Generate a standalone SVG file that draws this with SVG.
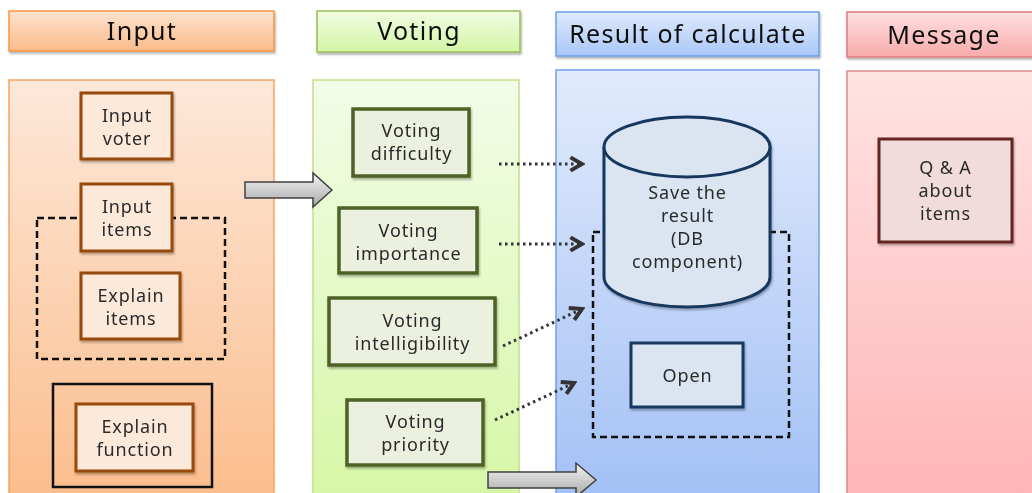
<svg xmlns="http://www.w3.org/2000/svg" width="1032" height="493" viewBox="0 0 1032 493">
<defs>
<linearGradient id="gOrH" x1="0" y1="0" x2="0" y2="1"><stop offset="0" stop-color="#fde3d0"/><stop offset="1" stop-color="#fbbb8a"/></linearGradient>
<linearGradient id="gOrP" x1="0" y1="0" x2="0" y2="1"><stop offset="0" stop-color="#fde8da"/><stop offset="1" stop-color="#fbbd8c"/></linearGradient>
<linearGradient id="gGrH" x1="0" y1="0" x2="0" y2="1"><stop offset="0" stop-color="#f1fbe3"/><stop offset="1" stop-color="#d3f5a6"/></linearGradient>
<linearGradient id="gGrP" x1="0" y1="0" x2="0" y2="1"><stop offset="0" stop-color="#f3fce8"/><stop offset="1" stop-color="#d6f7a6"/></linearGradient>
<linearGradient id="gBlH" x1="0" y1="0" x2="0" y2="1"><stop offset="0" stop-color="#dfeafc"/><stop offset="1" stop-color="#a9c7f7"/></linearGradient>
<linearGradient id="gBlP" x1="0" y1="0" x2="0" y2="1"><stop offset="0" stop-color="#e1ebfc"/><stop offset="1" stop-color="#a3c0f5"/></linearGradient>
<linearGradient id="gRdH" x1="0" y1="0" x2="0" y2="1"><stop offset="0" stop-color="#fee0e0"/><stop offset="1" stop-color="#f8aaaa"/></linearGradient>
<linearGradient id="gRdP" x1="0" y1="0" x2="0" y2="1"><stop offset="0" stop-color="#ffe3e3"/><stop offset="1" stop-color="#ffb5b5"/></linearGradient>
<linearGradient id="gGray" x1="0" y1="0" x2="0" y2="1"><stop offset="0" stop-color="#f4f4f4"/><stop offset="1" stop-color="#a8a8a8"/></linearGradient>
<filter id="sh" x="-10%" y="-10%" width="130%" height="140%"><feDropShadow dx="1" dy="2" stdDeviation="1.2" flood-color="#000" flood-opacity="0.3"/></filter>
<marker id="chev" viewBox="0 0 10 10" refX="8" refY="5" markerWidth="5.5" markerHeight="5.5" orient="auto" markerUnits="strokeWidth"><polyline points="1,1 8,5 1,9" fill="none" stroke="#333" stroke-width="2.4"/></marker>
</defs>
<style>
.hd{font-family:"Noto Sans","DejaVu Sans",sans-serif;font-size:25px;fill:#111;text-anchor:middle;letter-spacing:1.3px}
.tx{font-family:"Noto Sans","DejaVu Sans",sans-serif;font-size:18px;fill:#2a2a2a;text-anchor:middle;letter-spacing:0.85px}
.inN{fill:#fde9d9;stroke:#984807;stroke-width:3}
.voN{fill:#ebf1de;stroke:#4f6228;stroke-width:3.5}
.blN{fill:#dbe5f1;stroke:#17375e;stroke-width:3}
.rdN{fill:#f2dcdb;stroke:#632523;stroke-width:3}
.dash{fill:none;stroke:#111;stroke-width:2.5;stroke-dasharray:7 4}
.dot{fill:none;stroke:#333;stroke-width:3;stroke-dasharray:2.5 3.5;marker-end:url(#chev)}
.big{fill:url(#gGray);stroke:#404040;stroke-width:1.5}
</style>

<g id="lanes">
<rect x="9" y="80" width="265" height="420" fill="url(#gOrP)" stroke="#f9a35f" stroke-width="1.5"/>
<rect x="313" y="80" width="206" height="420" fill="url(#gGrP)" stroke="#c0df8c" stroke-width="1.5"/>
<rect x="556" y="70" width="263" height="430" fill="url(#gBlP)" stroke="#6d9eeb" stroke-width="1.5"/>
<rect x="847" y="71" width="190" height="430" fill="url(#gRdP)" stroke="#d98c8a" stroke-width="1.5"/>
</g>

<g id="header-input" filter="url(#sh)"><rect x="9" y="11" width="265" height="40" fill="url(#gOrH)" stroke="#f79646" stroke-width="1.5"/><text class="hd" x="142" y="40">Input</text></g>
<g id="header-voting" filter="url(#sh)"><rect x="317" y="11" width="203" height="41" fill="url(#gGrH)" stroke="#9bbb59" stroke-width="1.5"/><text class="hd" x="419" y="40">Voting</text></g>
<g id="header-result" filter="url(#sh)"><rect x="556" y="12" width="263" height="44" fill="url(#gBlH)" stroke="#6d9eeb" stroke-width="1.5"/><text class="hd" x="688" y="43">Result of calculate</text></g>
<g id="header-message" filter="url(#sh)"><rect x="847" y="12" width="190" height="45" fill="url(#gRdH)" stroke="#e07b7b" stroke-width="1.5"/><text class="hd" x="944" y="44">Message</text></g>

<g id="group-items"><rect class="dash" x="37" y="218" width="188" height="141"/></g>
<g id="group-function"><rect x="53" y="384" width="159" height="103" fill="none" stroke="#111" stroke-width="2.5"/></g>
<g id="group-result"><rect class="dash" x="593" y="232" width="196" height="205"/></g>

<g id="input-voter" filter="url(#sh)"><rect class="inN" x="81" y="93" width="91" height="66"/><text class="tx" x="127" y="122">Input</text><text class="tx" x="127" y="145">voter</text></g>
<g id="input-items" filter="url(#sh)"><rect class="inN" x="81" y="184" width="91" height="67"/><text class="tx" x="127" y="213">Input</text><text class="tx" x="127" y="236">items</text></g>
<g id="explain-items" filter="url(#sh)"><rect class="inN" x="81" y="273" width="99" height="66"/><text class="tx" x="131" y="302">Explain</text><text class="tx" x="131" y="325">items</text></g>
<g id="explain-function" filter="url(#sh)"><rect class="inN" x="76" y="404" width="117" height="67"/><text class="tx" x="135" y="433">Explain</text><text class="tx" x="135" y="456">function</text></g>

<g id="voting-difficulty" filter="url(#sh)"><rect class="voN" x="353" y="109" width="116" height="67"/><text class="tx" x="411.5" y="137">Voting</text><text class="tx" x="411.5" y="160">difficulty</text></g>
<g id="voting-importance" filter="url(#sh)"><rect class="voN" x="339" y="208" width="138" height="65"/><text class="tx" x="408.5" y="237">Voting</text><text class="tx" x="408.5" y="260">importance</text></g>
<g id="voting-intelligibility" filter="url(#sh)"><rect class="voN" x="329" y="298" width="166" height="67"/><text class="tx" x="412.5" y="327">Voting</text><text class="tx" x="412.5" y="350">intelligibility</text></g>
<g id="voting-priority" filter="url(#sh)"><rect class="voN" x="347" y="400" width="136" height="65"/><text class="tx" x="415.5" y="428">Voting</text><text class="tx" x="415.5" y="451">priority</text></g>

<g id="db" filter="url(#sh)">
<path class="blN" d="M604,147 L604,277 A83,30 0 0 0 770,277 L770,147"/>
<ellipse class="blN" cx="687" cy="147" rx="83" ry="30"/>
<text class="tx" x="687.5" y="199">Save the</text><text class="tx" x="687.5" y="222">result</text><text class="tx" x="687.5" y="245">(DB</text><text class="tx" x="687.5" y="268">component)</text>
</g>
<g id="open" filter="url(#sh)"><rect class="blN" x="631" y="343" width="112" height="64"/><text class="tx" x="687.5" y="382">Open</text></g>

<g id="qa" filter="url(#sh)"><rect class="rdN" x="879" y="139" width="133" height="103"/><text class="tx" x="945.5" y="174">Q &amp; A</text><text class="tx" x="945.5" y="197">about</text><text class="tx" x="945.5" y="220">items</text></g>

<g id="connectors">
<path class="big" d="M245,182 L313,182 L313,173 L332,190 L313,207 L313,198 L245,198 Z"/>
<path class="big" d="M488,472 L576,472 L576,463 L596,480 L576,497 L576,488 L488,488 Z"/>
<line class="dot" x1="499" y1="164" x2="582" y2="164"/>
<line class="dot" x1="499" y1="244" x2="582" y2="244"/>
<line class="dot" x1="503" y1="346" x2="582" y2="309"/>
<line class="dot" x1="495" y1="420" x2="574" y2="383"/>
</g>
</svg>
